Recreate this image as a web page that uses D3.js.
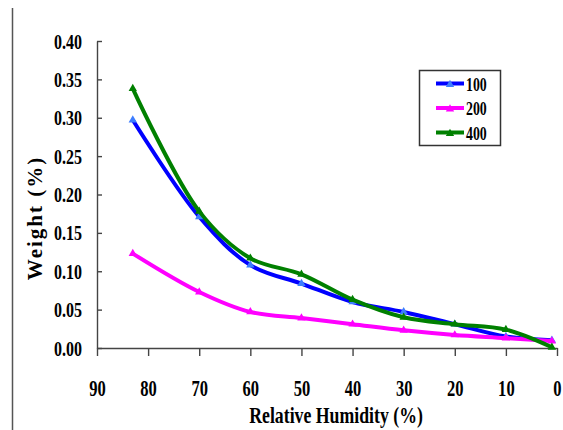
<!DOCTYPE html>
<html>
<head>
<meta charset="utf-8">
<script src="https://cdn.jsdelivr.net/npm/d3@7"></script>
<style>
body { margin: 0; background: #fff; }
text { font-family: "Liberation Serif", "Times New Roman", serif; fill: #000; }
</style>
</head>
<body>
<svg id="chart" width="563" height="430"></svg>
<script>
// relative humidity (%)
var humidity = [83, 70, 60, 50, 40, 30, 20, 10, 1];
var series100 = [0.297, 0.171, 0.108, 0.084, 0.060, 0.047, 0.031, 0.015, 0.010];
var series200 = [0.123, 0.073, 0.047, 0.039, 0.031, 0.023, 0.017, 0.013, 0.009];
var series400 = [0.338, 0.178, 0.117, 0.096, 0.063, 0.040, 0.031, 0.024, 0.001];
var seriesNames = ["100", "200", "400"];
var seriesColors = ["#0000ff", "#ff00ff", "#008000"];
var markerColors = ["#3d7dff", "#ff00ff", "#008000"];
var xTicks = [90, 80, 70, 60, 50, 40, 30, 20, 10, 0];
var yTicks = [0, 0.05, 0.10, 0.15, 0.20, 0.25, 0.30, 0.35, 0.40];

var svg = d3.select("#chart");

var x = d3.scaleLinear().domain([90, 0]).range([97, 557]);
var y = d3.scaleLinear().domain([0, 0.4]).range([348, 41]);

// left border of the picture
svg.append("line")
	.attr("x1", 12.5).attr("x2", 12.5)
	.attr("y1", 8).attr("y2", 430)
	.attr("stroke", "#555").attr("stroke-width", 1.5);

// y axis, ticks pointing inward
var gy = svg.append("g")
	.attr("transform", "translate(97,0)")
	.call(d3.axisLeft(y).tickValues(yTicks).tickSizeInner(-5).tickSizeOuter(0)
		.tickFormat(d3.format(".2f")));
gy.selectAll("text")
	.attr("x", 0).attr("dy", 0)
	.attr("transform", "translate(-15,7) scale(0.8,1)")
	.style("font-size", "20px").style("font-weight", "bold")
	.attr("text-anchor", "end");

// x axis, ticks pointing down
var gx = svg.append("g")
	.attr("transform", "translate(0,348)")
	.call(d3.axisBottom(x).tickValues(xTicks).tickSize(8).tickSizeOuter(0)
		.tickFormat(d3.format("d")));
gx.selectAll("text")
	.attr("y", 0).attr("dy", 0)
	.attr("transform", "translate(0,48) scale(0.72,1)")
	.style("font-size", "23px").style("font-weight", "bold");

svg.selectAll(".domain, .tick line").attr("stroke", "#444").attr("stroke-width", 1.4);

// titles
svg.append("text")
	.attr("transform", "translate(336,423) scale(0.74,1)")
	.attr("text-anchor", "middle")
	.style("font-size", "24px").style("font-weight", "bold")
	.text("Relative Humidity (%)");

svg.append("text")
	.attr("transform", "translate(42,218) rotate(-90)")
	.attr("text-anchor", "middle")
	.style("font-size", "21px").style("font-weight", "bold")
	.style("letter-spacing", "2px")
	.text("Weight (%)");

// lines
var allSeries = [series100, series200, series400];
var line = d3.line()
	.x(function (d, i) { return x(humidity[i]); })
	.y(function (d) { return y(d); })
	.curve(d3.curveCatmullRom.alpha(0.5));

var tri = d3.symbol().type(d3.symbolTriangle).size(30);

allSeries.forEach(function (vals, k) {
	svg.append("path")
		.datum(vals)
		.attr("d", line)
		.attr("fill", "none")
		.attr("stroke", seriesColors[k])
		.attr("stroke-width", 4)
		.attr("stroke-linejoin", "round");
	svg.selectAll(".m" + k)
		.data(vals)
		.enter().append("path")
		.attr("class", "m" + k)
		.attr("d", tri)
		.attr("fill", markerColors[k])
		.attr("transform", function (d, i) { return "translate(" + x(humidity[i]) + "," + y(d) + ")"; });
});

// legend
var legend = svg.append("g");
legend.append("rect")
	.attr("x", 419.5).attr("y", 70.5).attr("width", 81).attr("height", 75)
	.attr("fill", "#fff").attr("stroke", "#333").attr("stroke-width", 1.5);

seriesNames.forEach(function (name, k) {
	var ly = 83.5 + k * 24.5;
	legend.append("line")
		.attr("x1", 436).attr("x2", 464)
		.attr("y1", ly).attr("y2", ly)
		.attr("stroke", seriesColors[k]).attr("stroke-width", 4);
	legend.append("path")
		.attr("d", tri)
		.attr("fill", markerColors[k])
		.attr("transform", "translate(450," + (ly + 1) + ")");
	legend.append("text")
		.attr("transform", "translate(466," + (ly + 7) + ") scale(0.77,1)")
		.style("font-size", "18px").style("font-weight", "bold")
		.text(name);
});
</script>
</body>
</html>
